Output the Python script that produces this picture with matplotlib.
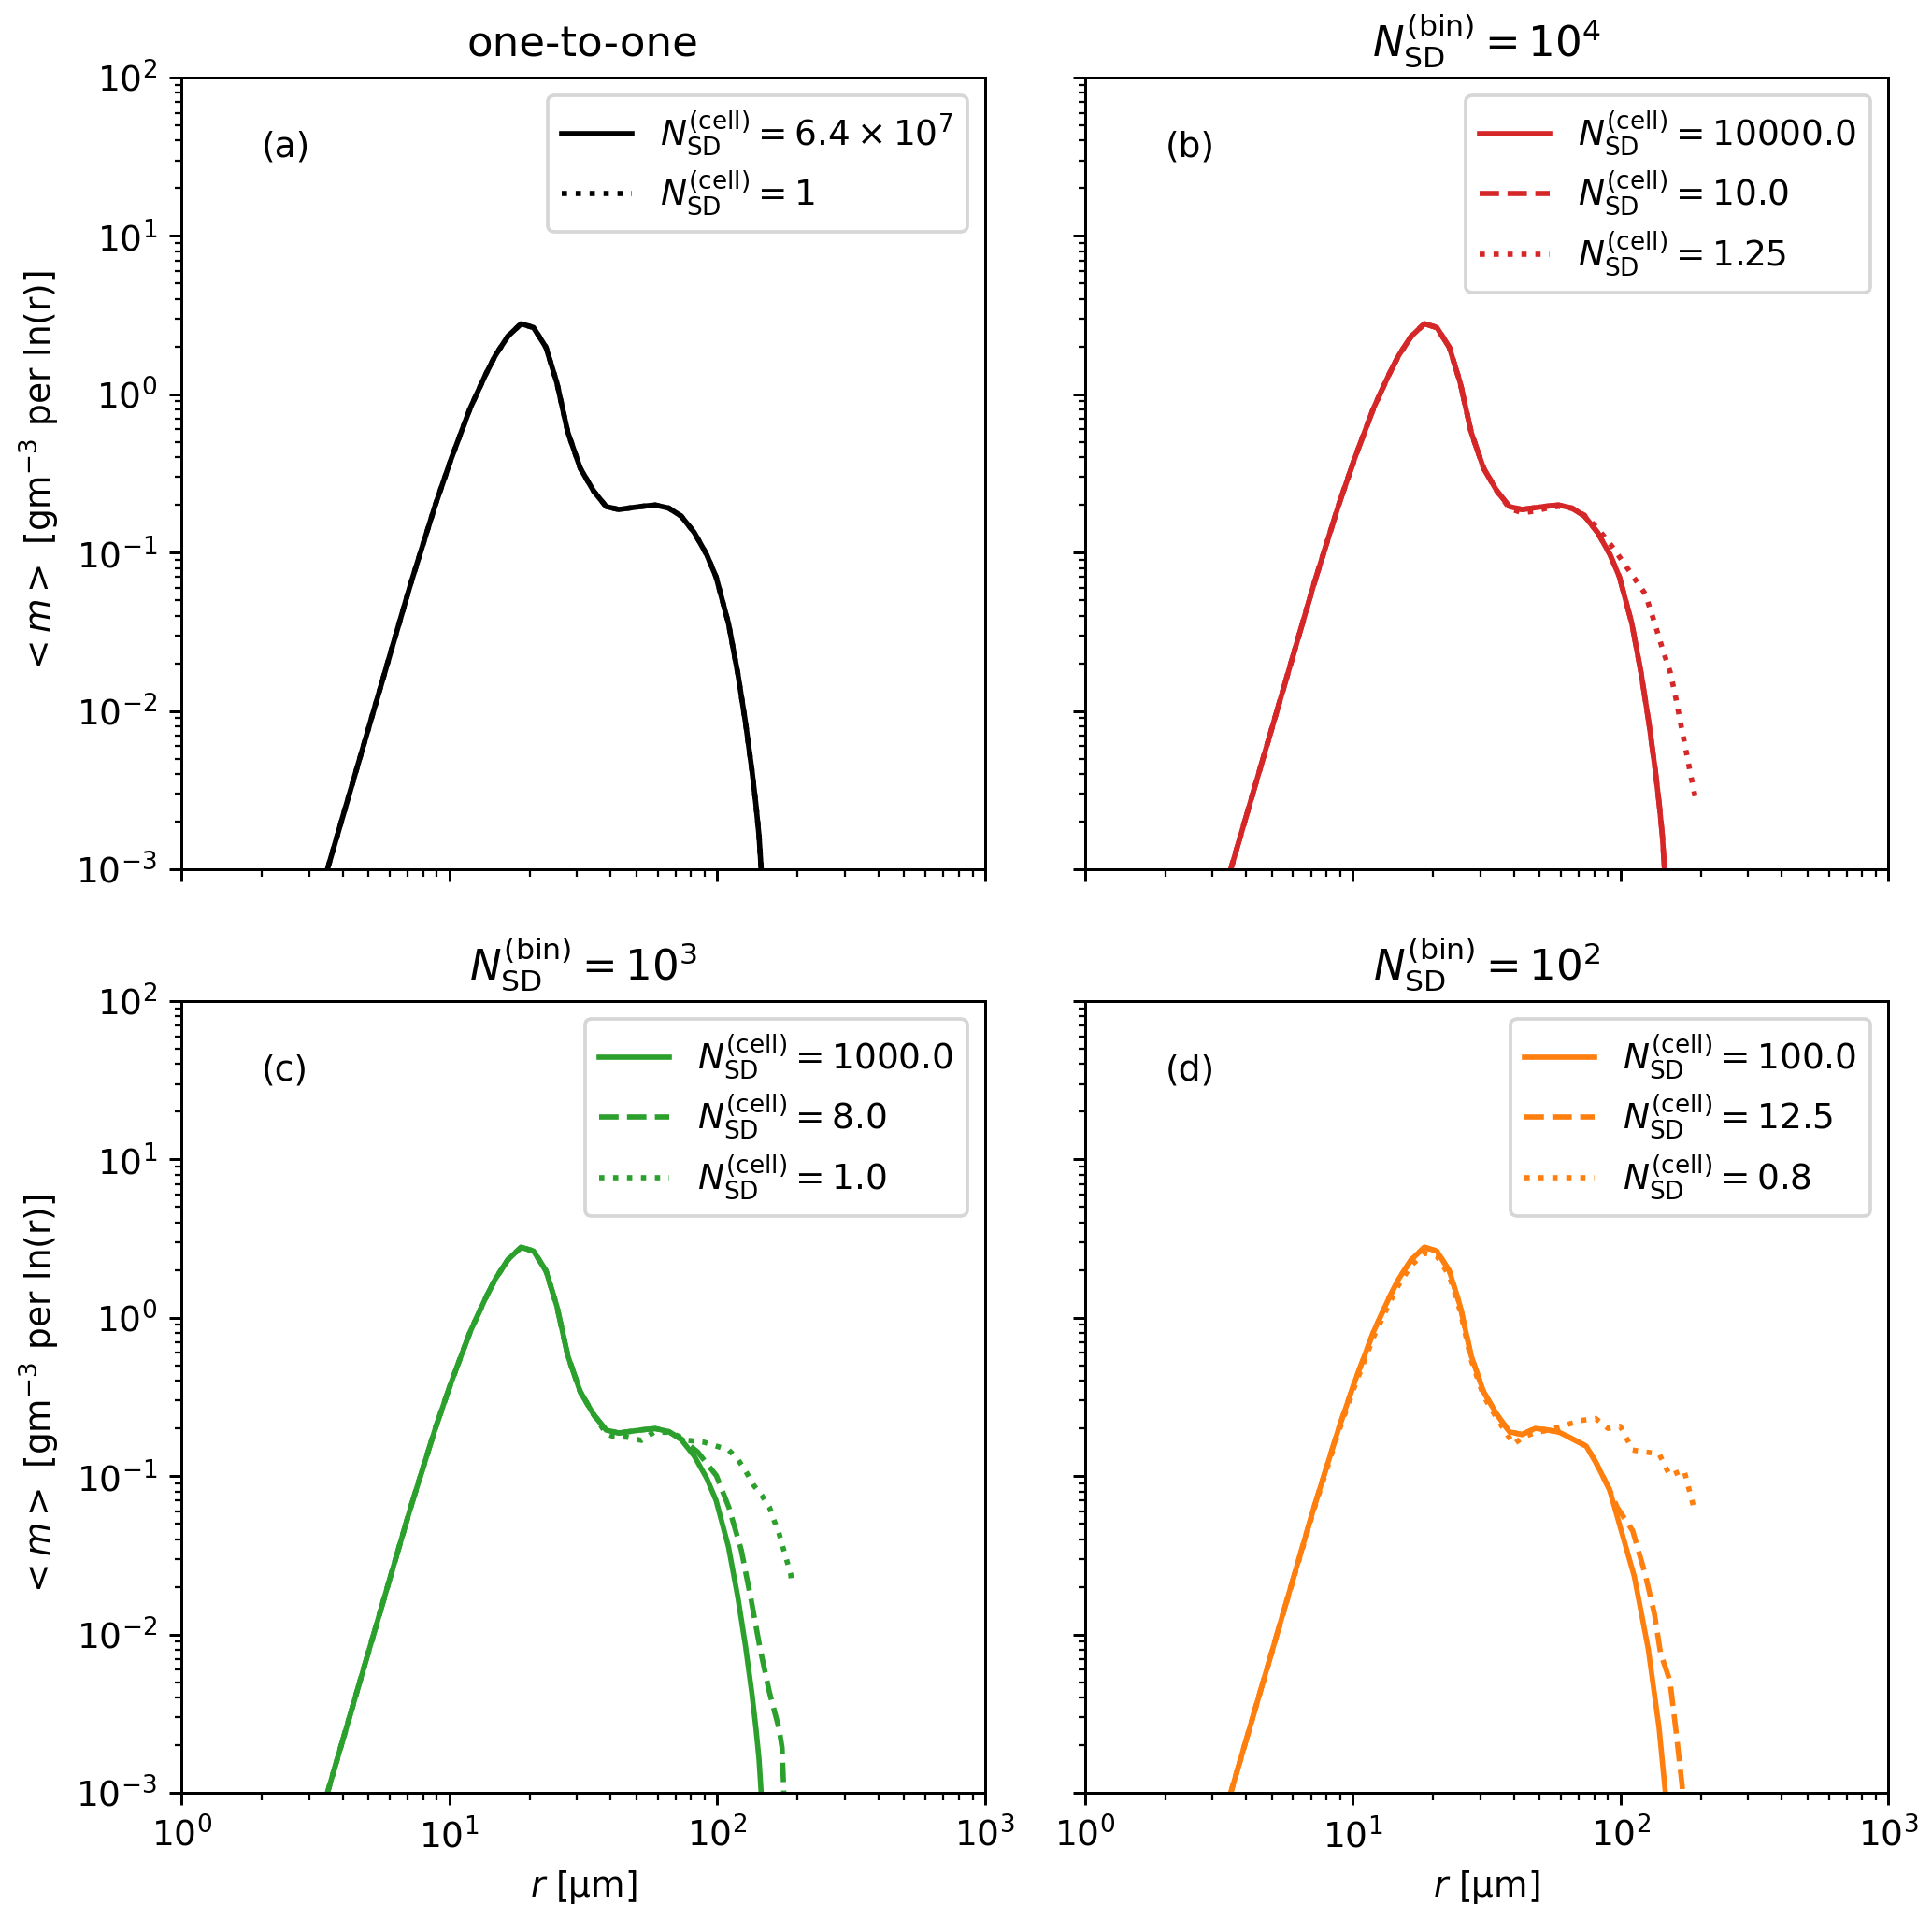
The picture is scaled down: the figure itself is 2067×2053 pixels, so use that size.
import matplotlib
matplotlib.use("Agg")
import matplotlib.pyplot as plt

# ---------------- data ----------------
# rising branch and main peak (common to almost all runs)
r_rise = [3.2, 3.51, 4.42, 5.63, 7.18, 8.91, 10.19, 11.98, 13.71, 14.86, 16.56, 18.55,
          20.65, 22.98, 25.24, 27.73, 30.87, 34.64]
m_rise = [5.85e-4, 1.0e-3, 3.81e-3, 0.0155, 0.0635, 0.204, 0.394, 0.817, 1.343, 1.754,
          2.323, 2.786, 2.636, 1.977, 1.180, 0.575, 0.340, 0.244]

# plateau + tail of the reference (one-to-one) run
r_tail_ref = [38.57, 42.96, 48.07, 52.80, 58.78, 65.96, 73.45, 82.19, 91.5, 99.2,
              110.4, 119.6, 127.9, 135.0, 139.7, 143.5, 146.2, 148.5]
m_tail_ref = [0.195, 0.187, 0.192, 0.196, 0.1995, 0.191, 0.170, 0.134, 0.097, 0.0702,
              0.0356, 0.0172, 8.34e-3, 4.23e-3, 2.57e-3, 1.63e-3, 1.0e-3, 6e-4]

# panel (b) dotted, N=1.25
r_tail_b_dot = [38.57, 42.96, 48.07, 52.80, 58.78, 65.96, 73.45, 81.8, 94.4, 108.9,
                123.9, 133.2, 143.1, 153.8, 161.4, 168.5, 176.5, 184.2, 190.0]
m_tail_b_dot = [0.19, 0.178, 0.183, 0.19, 0.196, 0.19, 0.172, 0.144, 0.106, 0.075,
                0.0547, 0.0375, 0.0252, 0.0174, 0.0119, 0.0081, 0.00544, 0.00374, 0.0029]

# panel (c) dashed, N=8.0
r_tail_c_dash = [38.57, 42.96, 48.07, 52.80, 58.78, 65.96, 73.45, 84.7, 99.5, 110.7,
                 123.3, 133.7, 144.9, 157.0, 170.2, 174.9, 177.3, 178.5]
m_tail_c_dash = [0.195, 0.187, 0.192, 0.196, 0.1995, 0.191, 0.172, 0.142, 0.1005,
                 0.0635, 0.0339, 0.0170, 8.1e-3, 4.3e-3, 2.57e-3, 1.93e-3, 1.09e-3, 6e-4]

# panel (c) dotted, N=1.0
r_tail_c_dot = [38.57, 41.0, 46.0, 52.2, 58.1, 66.5, 78.1, 89.3, 99.5, 110.7, 120.0,
                128.4, 137.3, 146.9, 157.0, 163.6, 170.2, 175.9, 182.1, 188.5, 190.5]
m_tail_c_dot = [0.185, 0.178, 0.176, 0.168, 0.189, 0.189, 0.168, 0.1637, 0.1545, 0.146,
                0.1265, 0.1064, 0.0871, 0.0755, 0.0635, 0.052, 0.0439, 0.0359, 0.0294,
                0.0240, 0.0202]

# panel (d) solid, N=100.0
r_tail_d_sol = [38.57, 42.96, 48.07, 52.80, 58.78, 63.5, 74.6, 80.8, 91.1, 112.7,
                127.1, 139.5, 147.3, 149.5]
m_tail_d_sol = [0.19, 0.183, 0.2, 0.196, 0.19, 0.178, 0.1545, 0.123, 0.0822, 0.0233,
                8.1e-3, 2.57e-3, 1.0e-3, 6e-4]

# panel (d) dashed, N=12.5
r_tail_d_dash = [38.57, 42.96, 48.07, 52.80, 58.78, 63.5, 74.6, 80.8, 91.1, 97.3,
                 111.2, 123.8, 134.0, 141.3, 153.1, 161.5, 170.3, 171.5]
m_tail_d_dash = [0.19, 0.183, 0.2, 0.196, 0.19, 0.178, 0.1545, 0.123, 0.0822, 0.0635,
                 0.0451, 0.0240, 0.01355, 7.6e-3, 5.1e-3, 2.43e-3, 1.09e-3, 6e-4]

# panel (d) dotted, N=0.8 (slightly lower peak)
m_rise_d_dot = [5.85e-4, 1.0e-3, 3.8e-3, 0.0153, 0.0615, 0.194, 0.37, 0.755, 1.23,
                1.61, 2.14, 2.56, 2.45, 1.84, 1.10, 0.54, 0.32, 0.23]
r_tail_d_dot = [39.9, 43.8, 48.7, 54.0, 60.3, 70.8, 80.8, 89.9, 100.0, 111.2, 123.8,
                139.6, 153.1, 172.7, 179.7, 189.6]
m_tail_d_dot = [0.159, 0.178, 0.189, 0.195, 0.206, 0.224, 0.231, 0.2, 0.206, 0.146,
                0.142, 0.138, 0.1005, 0.1096, 0.0847, 0.0601]

titles = ["one-to-one",
          r"$N_{\rm SD}^{\rm (bin)} = 10^4$",
          r"$N_{\rm SD}^{\rm (bin)} = 10^3$",
          r"$N_{\rm SD}^{\rm (bin)} = 10^2$"]
panel_labels = ["(a)", "(b)", "(c)", "(d)"]
colors = ["black", "tab:red", "tab:green", "tab:orange"]

r_ref = r_rise + r_tail_ref
m_ref = m_rise + m_tail_ref

cell = r"$N_{\rm SD}^{\rm (cell)} = "
panels = [
    [(r_ref, m_ref, "-", cell + r"6.4 \times 10^7$"),
     (r_ref, m_ref, ":", cell + r"1$")],
    [(r_ref, m_ref, "-", cell + r"10000.0$"),
     (r_ref, m_ref, "--", cell + r"10.0$"),
     (r_rise + r_tail_b_dot, m_rise + m_tail_b_dot, ":", cell + r"1.25$")],
    [(r_ref, m_ref, "-", cell + r"1000.0$"),
     (r_rise + r_tail_c_dash, m_rise + m_tail_c_dash, "--", cell + r"8.0$"),
     (r_rise + r_tail_c_dot, m_rise + m_tail_c_dot, ":", cell + r"1.0$")],
    [(r_rise + r_tail_d_sol, m_rise + m_tail_d_sol, "-", cell + r"100.0$"),
     (r_rise + r_tail_d_dash, m_rise + m_tail_d_dash, "--", cell + r"12.5$"),
     (r_rise + r_tail_d_dot, m_rise_d_dot + m_tail_d_dot, ":", cell + r"0.8$")],
]

# ---------------- figure ----------------
dpi = 270
fig, axes = plt.subplots(2, 2, sharex=True, sharey=True,
                         figsize=(2067 / dpi, 2053 / dpi), dpi=dpi)
fig.subplots_adjust(left=0.0939, right=0.9773, bottom=0.0658, top=0.9596,
                    wspace=0.1244, hspace=0.1665)

for ax, curves, title, lab, col in zip(axes.flat, panels, titles, panel_labels, colors):
    for r, m, ls, label in curves:
        ax.plot(r, m, ls, color=col, lw=1.5, label=label)
    ax.set_xscale("log")
    ax.set_yscale("log")
    ax.set_xlim(1, 1000)
    ax.set_ylim(1e-3, 1e2)
    ax.set_title(title, fontsize=12)
    ax.text(0.1, 0.9, lab, transform=ax.transAxes, fontsize=10)
    ax.legend(loc="upper right", fontsize=10, labelspacing=0.33)

for ax in axes[:, 0]:
    ax.set_ylabel(r"$<m>$ [gm$^{-3}$ per ln(r)]")
for ax in axes[1, :]:
    ax.set_xlabel(r"$r$ [µm]")

fig.savefig("out.png", dpi=dpi)
